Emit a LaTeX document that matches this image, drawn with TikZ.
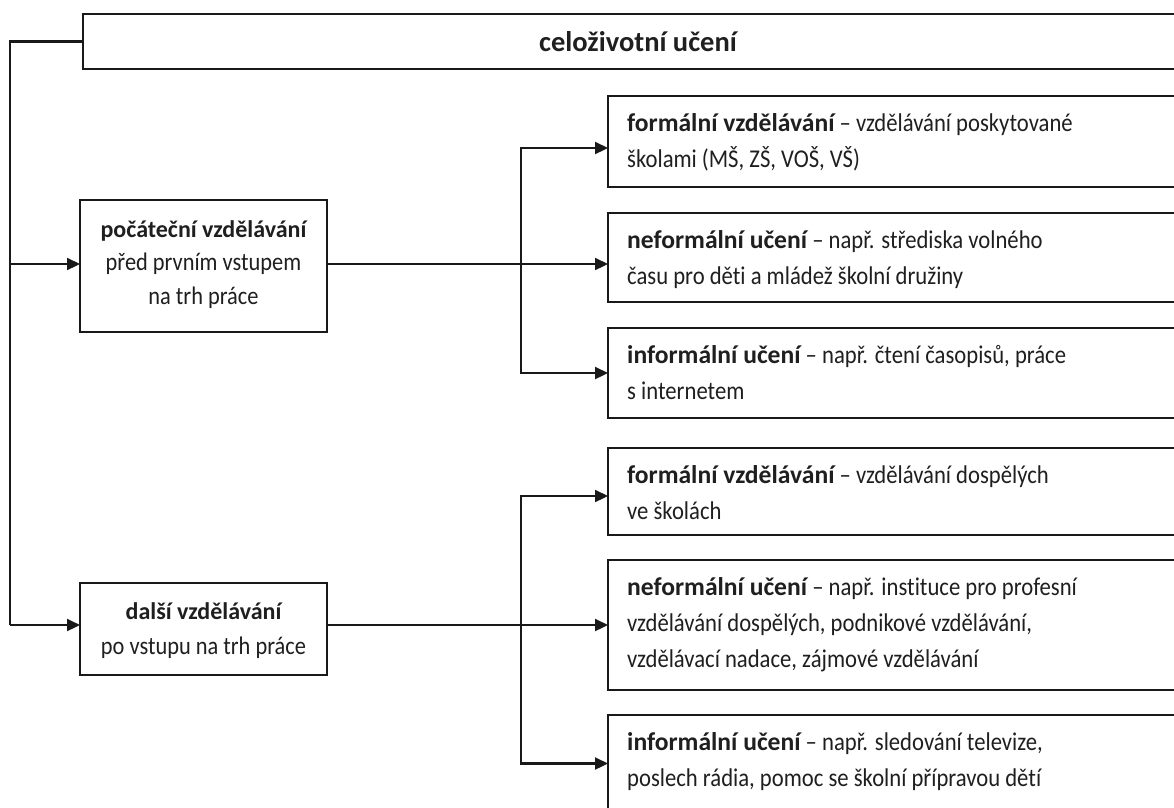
\documentclass[tikz,border=0pt]{standalone}
\usepackage{fontspec}
\setmainfont{Carlito}[FakeStretch=0.885, Ligatures=NoCommon]
\newfontfamily\bff{Carlito}[Ligatures=NoCommon]
\newcommand{\B}[1]{{\bff\bfseries #1}}
\usetikzlibrary{arrows.meta}
\tikzset{
  ln/.style={line width=2.2pt, draw=black!90},
  arr/.style={ln, -{Triangle[length=13pt,width=12pt]}},
  box/.style={draw=black!90, line width=2.2pt, anchor=north west, inner sep=0pt, outer sep=0pt},
  rbox/.style={box, minimum width=589pt},
  lbox/.style={box, minimum width=247pt},
  rtxt/.style={anchor=north west, inner sep=0pt, align=left, font=\fontsize{25.6}{36}\selectfont, text=black!88},
  ctxt/.style={anchor=north, inner sep=0pt, align=center, text=black!88},
}
\newcommand{\fs}{\rule{0pt}{35pt}}
\begin{document}
\begin{tikzpicture}[x=1pt,y=-1pt]
\useasboundingbox (0,0) rectangle (1174,807);
\fill[white] (0,0) rectangle (1174,807);
\clip (0,0) rectangle (1174,807);

% boxes
\node[box, minimum width=1114pt, minimum height=55pt] (T) at (83,14) {};
\node[lbox, minimum height=132pt] (P) at (80,200) {};
\node[lbox, minimum height=92pt] (D) at (80,583) {};
\node[rbox, minimum height=91pt] (b1) at (608,96) {};
\node[rbox, minimum height=89pt] (b2) at (608,213) {};
\node[rbox, minimum height=90pt] (b3) at (608,328) {};
\node[rbox, minimum height=87pt] (b4) at (608,448) {};
\node[rbox, minimum height=130pt] (b5) at (608,560) {};
\node[rbox, minimum height=97pt] (b6) at (608,715) {};

% texts
\node[anchor=base, inner sep=0pt, font=\fontsize{28.5}{36}\selectfont, text=black!88] (tT) at ([xshift=-2pt,yshift=-9.5pt]T.center) {\B{celoživotní učení}};
\node[ctxt, font=\fontsize{25.3}{33.5}\selectfont] (tP) at (P.north) {\rule{0pt}{37pt}{\fontsize{24}{33.5}\selectfont\B{počáteční vzdělávání}}\\před prvním vstupem\\na trh práce};
\node[ctxt, font=\fontsize{25.3}{35}\selectfont] (tD) at (D.north) {\rule{0pt}{36pt}{\fontsize{24}{35}\selectfont\B{další vzdělávání}}\\po vstupu na trh práce};

\node[rtxt] (t1) at ([xshift=19pt]b1.north west) {\fs\B{formální vzdělávání} – vzdělávání poskytované\\školami (MŠ, ZŠ, VOŠ, VŠ)};
\node[rtxt] (t2) at ([xshift=19pt]b2.north west) {\fs\B{neformální učení} – např. střediska volného\\času pro děti a mládež školní družiny};
\node[rtxt] (t3) at ([xshift=19pt]b3.north west) {\fs\B{informální učení} – např. čtení časopisů, práce\\s internetem};
\node[rtxt] (t4) at ([xshift=19pt]b4.north west) {\fs\B{formální vzdělávání} – vzdělávání dospělých\\ve školách};
\node[rtxt] (t5) at ([xshift=19pt]b5.north west) {\fs\B{neformální učení} – např. instituce pro profesní\\vzdělávání dospělých, podnikové vzdělávání,\\vzdělávací nadace, zájmové vzdělávání};
\node[rtxt] (t6) at ([xshift=19pt]b6.north west) {\fs\B{informální učení} – např. sledování televize,\\poslech rádia, pomoc se školní přípravou dětí};

% connectors: left trunk
\coordinate (pin) at ([yshift=2pt]P.west);
\coordinate (din) at ([yshift=4pt]D.west);
\draw[ln] (T.west) -| ([xshift=-70pt]din);
\draw[arr] ([xshift=-70pt]pin) -- (pin);
\draw[arr] ([xshift=-70pt]din) -- (din);

% upper group
\coordinate (pout) at ([yshift=2pt]P.east);
\coordinate (j1) at ([xshift=-87pt]pout -| b2.west);
\draw[arr] (pout) -- (pout -| b2.west);
\draw[arr] (j1) |- ([yshift=-6.5pt]b1.west);
\draw[arr] (j1) |- (b3.west);

% lower group
\coordinate (dout) at ([yshift=4pt]D.east);
\coordinate (j2) at ([xshift=-87pt]dout -| b5.west);
\draw[arr] (dout) -- (dout -| b5.west);
\draw[arr] (j2) |- ([yshift=-4.5pt]b4.west);
\draw[arr] (j2) |- (b6.west);
\end{tikzpicture}
\end{document}
